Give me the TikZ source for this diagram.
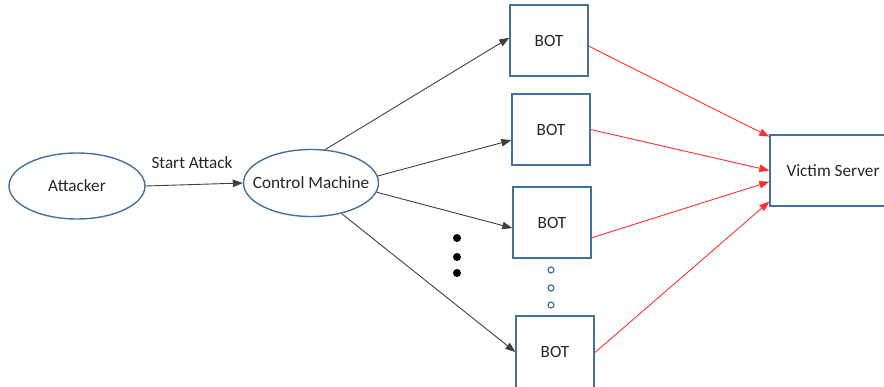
\documentclass[tikz,border=0pt]{standalone}
\usepackage{fontspec}
\setmainfont{Carlito}
\usetikzlibrary{shapes.geometric,arrows.meta}
\definecolor{boxblue}{HTML}{41719C}
\definecolor{linegray}{HTML}{404040}
\definecolor{redline}{HTML}{FF3030}
\begin{document}
\begin{tikzpicture}[x=1pt,y=-1pt,
  every node/.style={font=\fontsize{17.2pt}{20pt}\selectfont, text=black!85},
  ell/.style={ellipse, draw=boxblue, line width=1.4pt, inner xsep=-30pt, inner ysep=0pt},
  botbox/.style={rectangle, draw=boxblue, line width=1.4pt, minimum width=78pt, minimum height=71pt, inner sep=0pt},
  blkarrow/.style={draw=linegray, line width=0.9pt, -{Triangle[length=10pt,width=7.5pt]}},
  redarrow/.style={draw=redline, line width=0.9pt, -{Triangle[length=10pt,width=7.5pt]}, color=redline},
  bigdot/.style={circle, fill=black, inner sep=0pt, minimum size=8pt},
  smalldot/.style={circle, draw=boxblue, line width=1.2pt, fill=white, inner sep=0pt, minimum size=6pt}
]
\useasboundingbox (0,0) rectangle (884,387);
\node[ell, minimum width=136pt, minimum height=66pt] (att) at (77,186) {Attacker};
\node[ell, minimum width=135pt, minimum height=67pt] (cm) at (311,183) {Control Machine};
\node[botbox] (bot1) at (549,40.5) {BOT};
\node[botbox] (bot2) at (551,129.5) {BOT};
\node[botbox] (bot3) at (552,222.5) {BOT};
\node[botbox, minimum height=72pt] (bot4) at (555,352) {BOT};
\node[rectangle, draw=boxblue, line width=1.4pt, minimum width=126pt, minimum height=71pt, inner sep=0pt] (vic) at (833,170.5) {Victim Server};
\node (lbl) at (192,163) {Start Attack};
\draw[blkarrow] (att.east) -- (cm.west);
\draw[blkarrow] (cm.67) -- (bot1.176);
\draw[blkarrow] (cm.6) -- (bot2.195);
\draw[blkarrow] (cm.-8) -- (bot3.188);
\draw[blkarrow] (cm.-45) -- (bot4.west);
\draw[redarrow] (bot1.-8) -- (vic.152);
\draw[redarrow] (bot2.east) -- (vic.180);
\draw[redarrow] (bot3.-21) -- (vic.190);
\draw[redarrow] (bot4.-1) -- (vic.206);
\node[bigdot] (d1) at (457,238) {};
\node[bigdot] (d2) at (457,257) {};
\node[bigdot] (d3) at (457,273) {};
\node[smalldot] (s1) at (551,270) {};
\node[smalldot] (s2) at (551,288) {};
\node[smalldot] (s3) at (551,305) {};
\end{tikzpicture}
\end{document}
